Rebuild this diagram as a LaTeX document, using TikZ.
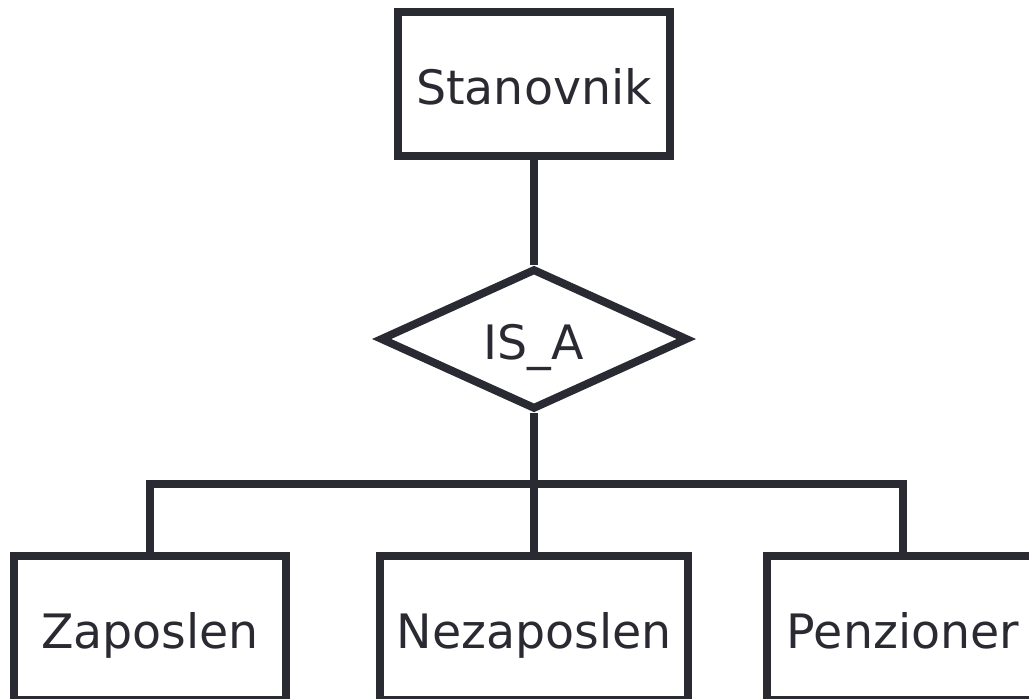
\documentclass[tikz,border=0pt]{standalone}
\usepackage{fontspec}
\setmainfont{DejaVu Sans}
\usetikzlibrary{shapes.geometric}
\definecolor{ink}{HTML}{2A2A33}
\begin{document}
\begin{tikzpicture}[x=0.02cm, y=-0.02cm, line width=4.5pt, draw=ink, text=ink,
    every node/.style={draw, font=\fontsize{27}{32}\selectfont, inner sep=0pt,
        text height=23pt, text depth=0pt},
    entity/.style={rectangle, minimum width=5.44cm, minimum height=2.88cm}]
            \useasboundingbox (0,0) rectangle (1029,699);
            % Supertype
            \node[entity] (stan) at (534,84) {Stanovnik};
            % Specialisation
            \node[diamond, minimum width=6.16cm, minimum height=2.82cm] (isa) at (534,339) {IS\_A};
            % Subtypes
            \node[entity] (zap) at (150,628) {Zaposlen};
            \node[entity, minimum width=6.16cm] (nez) at (534,628) {Nezaposlen};
            \node[entity] (pen) at (903,628) {Penzioner};
            \coordinate (split) at (534,484);

            % Connectors
            \draw (stan) -- (isa);
            \draw (isa) -- (split);
            \draw (zap.north) |- (split) -| (pen.north);
            \draw (split) -- (nez.north);
          \end{tikzpicture}
\end{document}
